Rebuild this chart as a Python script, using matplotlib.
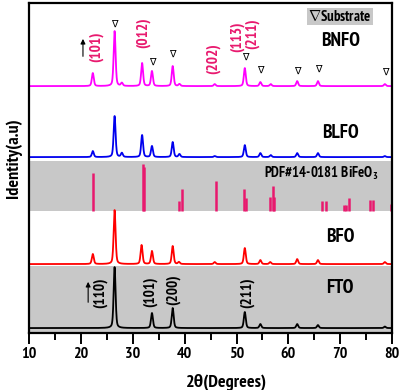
import numpy as np
import matplotlib
matplotlib.use("Agg")
import matplotlib.pyplot as plt
from matplotlib import font_manager

prefs = ['Liberation Sans Narrow', 'Arial Narrow', 'Archivo Narrow', 'PT Sans Narrow',
         'Roboto Condensed', 'Open Sans Condensed', 'IBM Plex Sans Condensed',
         'Fira Sans Condensed', 'Encode Sans Condensed', 'Barlow Semi Condensed']
bold_fams = {f.name for f in font_manager.fontManager.ttflist
             if (f.weight == 'bold' or (isinstance(f.weight, int) and f.weight >= 700))}
chosen = next((p for p in prefs if p in bold_fams), 'Liberation Sans')
plt.rcParams['font.family'] = [chosen, 'Liberation Sans', 'DejaVu Sans']
plt.rcParams['font.weight'] = 'bold'
plt.rcParams['mathtext.fontset'] = 'custom'
plt.rcParams['mathtext.rm'] = chosen
plt.rcParams['mathtext.bf'] = chosen + ':bold'

# ---------------- data ----------------
two_theta = np.linspace(10, 80, 3500)

fto_pos = [26.5, 33.7, 37.7, 51.6, 54.6, 61.7, 65.7, 78.6]
fto_hgt = [61, 15, 20, 16, 4, 4, 3, 1.5]

bfo_pos = [22.3, 26.5, 31.7, 33.7, 37.7, 38.9, 45.8, 51.6, 54.6, 56.5, 61.7, 65.7, 78.6]
bfo_hgt = [10, 54, 19, 13, 18, 2, 2, 16, 4, 2, 5, 4, 2]

blfo_pos = [22.3, 26.5, 27.9, 31.8, 33.7, 37.7, 39.0, 45.8, 51.6, 54.6, 56.6, 61.7, 65.7, 78.6]
blfo_hgt = [6, 41, 4, 22, 11, 15, 3, 1, 12, 4, 2, 4, 4, 1]

bnfo_pos = [22.3, 26.5, 27.9, 31.8, 33.7, 37.7, 39.0, 45.8, 51.6, 54.6, 56.6, 61.7, 65.7, 78.6]
bnfo_hgt = [13, 55, 3, 23, 15, 20, 2, 2, 18, 4, 2, 5, 5, 2]

pdf_pos = [22.4, 31.9, 32.1, 39.0, 39.5, 46.0, 51.5, 51.9, 56.5, 57.0, 57.3,
           66.4, 67.2, 70.7, 71.2, 71.6, 75.8, 76.3, 79.8]
pdf_hgt = [38, 47, 44, 10, 22, 30, 22, 13, 14, 25, 14, 10, 10, 6, 6, 13, 11, 11, 7]

offsets = {'FTO': 5, 'BFO': 69, 'BLFO': 176, 'BNFO': 247}
pdf_band = (122, 172)
fto_band_top = 67

bnfo_planes = ['(101)', '(012)', '(202)', '(113)', '(211)']
bnfo_plane_x = [22.9, 32.0, 45.5, 50.1, 53.0]
bnfo_plane_y = [286, 300, 274, 296, 299]

fto_planes = ['(110)', '(101)', '(200)', '(211)']
fto_plane_x = [23.7, 33.3, 37.8, 52.0]
fto_plane_y = [40, 41, 43, 40]

sub_x = [26.5, 33.7, 37.7, 51.6, 54.6, 61.7, 65.7, 78.6]
sub_y = [309, 271, 279, 276, 263, 262, 264, 261]

xticks = [10, 20, 30, 40, 50, 60, 70, 80]


def pattern(pos, hgt, w=0.22):
    y = np.zeros_like(two_theta)
    for p, h in zip(pos, hgt):
        lor = 1.0 / (1.0 + ((two_theta - p) / w) ** 2)
        gau = np.exp(-np.log(2) * ((two_theta - p) / w) ** 2)
        y += h * (0.6 * gau + 0.4 * lor)
    return y


fig = plt.figure(figsize=(4.03, 3.90), dpi=100)
ax = fig.add_axes([0.072, 0.146, 0.901, 0.846])
ax.set_xlim(10, 80)
ax.set_ylim(0, 330)

# gray bands
ax.axhspan(0, fto_band_top, color='#c8c8c8', zorder=0, lw=0)
ax.axhspan(pdf_band[0], pdf_band[1], color='#c8c8c8', zorder=0, lw=0)

# traces
ax.plot(two_theta, offsets['FTO'] + pattern(fto_pos, fto_hgt), color='black', lw=1.3)
ax.plot(two_theta, offsets['BFO'] + pattern(bfo_pos, bfo_hgt), color='#ff0000', lw=1.3)
ax.plot(two_theta, offsets['BLFO'] + pattern(blfo_pos, blfo_hgt), color='#0000ee', lw=1.3)
ax.plot(two_theta, offsets['BNFO'] + pattern(bnfo_pos, bnfo_hgt), color='#ff00ff', lw=1.3)

# PDF sticks
ax.vlines(pdf_pos, pdf_band[0], [pdf_band[0] + h for h in pdf_hgt],
          color='#e8196e', lw=1.8)

# sample labels
for name, y in [('BNFO', 292), ('BLFO', 200), ('BFO', 96), ('FTO', 45)]:
    ax.text(70, y, name, ha='center', va='center', fontsize=14, fontweight='bold')

ax.text(66.4, 160, r'PDF#14-0181 BiFeO$_\mathbf{3}$', ha='center', va='center',
        fontsize=10.5, fontweight='bold')

# legend-like box
ax.text(69.9, 316.5, r'$\nabla$Substrate', ha='center', va='center', fontsize=10.5,
        fontweight='bold',
        bbox=dict(boxstyle='square,pad=0.08', fc='#c8c8c8', ec='none'))

# BNFO plane labels
for t, x, y in zip(bnfo_planes, bnfo_plane_x, bnfo_plane_y):
    ax.text(x, y, t, rotation=90, ha='center', va='center', fontsize=11,
            fontweight='bold', color='#e8196e')

# FTO plane labels
for t, x, y in zip(fto_planes, fto_plane_x, fto_plane_y):
    ax.text(x, y, t, rotation=90, ha='center', va='center', fontsize=11,
            fontweight='bold', color='black')

# substrate markers
for x, y in zip(sub_x, sub_y):
    ax.text(x, y, '\u2207', ha='center', va='center', fontsize=7,
            family=['DejaVu Sans'], fontweight='normal')

# arrows
ax.annotate('', xy=(20.4, 297), xytext=(20.4, 274),
            arrowprops=dict(arrowstyle='-|>', color='black', lw=0.8, mutation_scale=7))
ax.annotate('', xy=(21.4, 54), xytext=(21.4, 28),
            arrowprops=dict(arrowstyle='-|>', color='black', lw=0.8, mutation_scale=7))

# axes styling
for s in ax.spines.values():
    s.set_linewidth(1.6)
ax.set_yticks([])
ax.set_xticks(xticks)
ax.set_xticks(np.arange(15, 80, 10), minor=True)
ax.tick_params(axis='x', which='major', direction='out', length=8, width=1.4,
               labelsize=11.5, pad=2)
ax.tick_params(axis='x', which='minor', direction='out', length=5, width=1.4)
for lab in ax.get_xticklabels():
    lab.set_fontweight('bold')
ax.set_xlabel('2\u03b8(Degrees)', fontsize=13, fontweight='bold')
ax.xaxis.set_label_coords(0.545, -0.125)
ax.set_ylabel('Identity(a.u)', fontsize=13, fontweight='bold')
ax.yaxis.set_label_coords(-0.018, 0.53)

fig.savefig('out.png', dpi=100)
